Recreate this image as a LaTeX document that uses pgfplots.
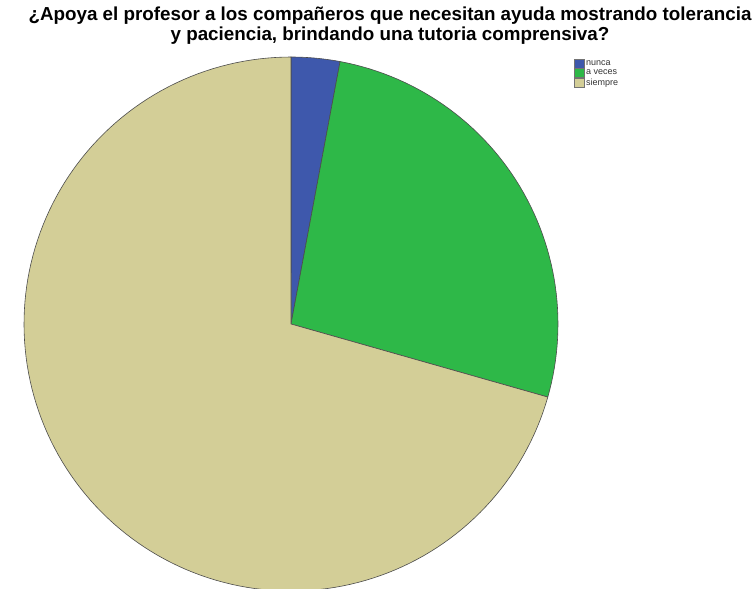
\documentclass[border=0pt]{standalone}
\usepackage{pgfplots}
\pgfplotsset{compat=1.18}
\usepackage{pgfplotstable}
\usepackage{fontspec}
\setmainfont{Liberation Sans}

\definecolor{spssblue}{RGB}{62,88,172}
\definecolor{spssgreen}{RGB}{46,184,72}
\definecolor{spsstan}{RGB}{211,206,151}

% counts per answer
\pgfplotstableread{
cat     count
nunca   1
aveces  9
siempre 24
}\piedata

\pgfplotstablegetelem{0}{count}\of\piedata \let\cA\pgfplotsretval
\pgfplotstablegetelem{1}{count}\of\piedata \let\cB\pgfplotsretval
\pgfplotstablegetelem{2}{count}\of\piedata \let\cC\pgfplotsretval
\pgfmathsetmacro{\tot}{\cA+\cB+\cC}
\pgfmathsetmacro{\aA}{360*\cA/\tot}
\pgfmathsetmacro{\aB}{\aA+360*\cB/\tot}

\begin{document}
\begin{tikzpicture}
\begin{axis}[
    at={(0pt,0pt)}, anchor=south west,
    scale only axis,
    width=756pt, height=589pt,
    xmin=0, xmax=756, ymin=0, ymax=589,
    y dir=reverse,
    hide axis,
    clip=true,
    legend style={at={(axis cs:574,58)}, anchor=north west, draw=none,
        fill=none, font=\fontsize{9}{9.5}\selectfont, text=black!80, row sep=-1pt,
        inner sep=0pt, cells={anchor=west}},
    legend image code/.code={\draw[#1,draw=black!55,line width=0.4pt] (0pt,-4.5pt) rectangle (9.5pt,4.5pt);},
]
% wedges, clockwise from 12 o'clock
\addplot[fill=spssblue, draw=black!70, line width=0.6pt, domain=0:\aA, samples=20, variable=\t]
    ({291+267*sin(t)},{324-267*cos(t)}) -- (axis cs:291,324) -- cycle;
\addplot[fill=spssgreen, draw=black!70, line width=0.6pt, domain=\aA:\aB, samples=60, variable=\t]
    ({291+267*sin(t)},{324-267*cos(t)}) -- (axis cs:291,324) -- cycle;
\addplot[fill=spsstan, draw=black!70, line width=0.6pt, domain=\aB:360, samples=150, variable=\t]
    ({291+267*sin(t)},{324-267*cos(t)}) -- (axis cs:291,324) -- cycle;
\legend{nunca, a veces, siempre}

\node[font=\fontsize{18.8}{19.5}\selectfont\bfseries, align=center, anchor=north, inner sep=0pt]
    at (axis cs:390,7) {¿Apoya el profesor a los compañeros que necesitan ayuda mostrando tolerancia\\
    y paciencia, brindando una tutoria comprensiva?};
\end{axis}
\pgfresetboundingbox
\useasboundingbox (0pt,0pt) rectangle (756pt,589pt);
\end{tikzpicture}
\end{document}
